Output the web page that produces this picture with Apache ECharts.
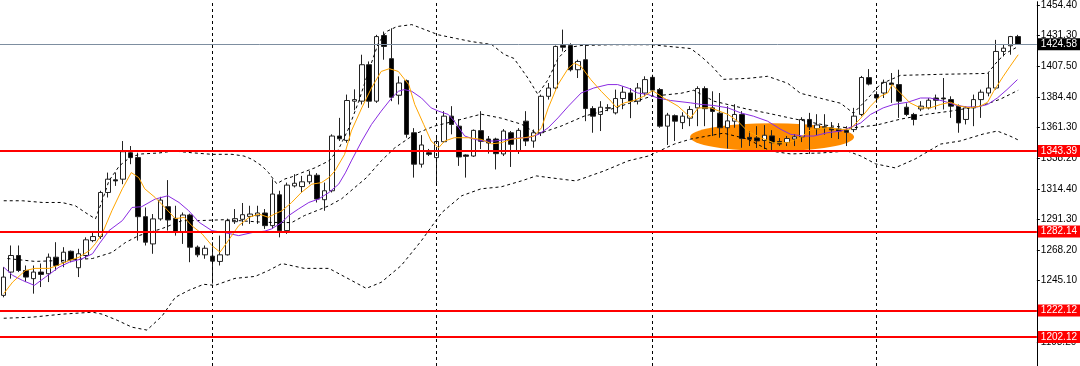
<!DOCTYPE html>
<html>
<head>
<meta charset="utf-8">
<script src="https://cdn.jsdelivr.net/npm/echarts@6/dist/echarts.min.js"></script>
<style>
  html, body { margin: 0; padding: 0; background: #fff; }
  #chart { width: 1080px; height: 366px; }
</style>
</head>
<body>
<div id="chart"></div>
<script>
// H4 candles (bar 0 = leftmost)
const opens = [1233.7,1251.4,1264.0,1252.6,1246.4,1251.4,1250.1,1262.7,1258.9,1267.2,
  1254.7,1264.0,1275.3,1278.4,1311.9,1321.5,1322.0,1342.1,1338.4,1293.5,
  1272.8,1291.8,1301.1,1292.2,1282.2,1294.8,1270.3,1264.5,1263.5,1259.5,
  1264.5,1289.7,1291.5,1293.7,1294.2,1296.3,1286.7,1310.1,1282.9,1316.9,
  1316.4,1320.0,1325.0,1306.4,1313.2,1354.8,1351.5,1381.3,1381.3,1409.0,
  1381.3,1431.2,1413.6,1385.8,1396.9,1357.3,1333.4,1342.1,1338.4,1350.5,
  1369.9,1362.3,1340.4,1339.6,1358.9,1352.5,1352.5,1341.2,1357.3,1343.4,
  1366.1,1351.0,1357.3,1385.0,1391.3,1423.6,1423.6,1405.2,1412.8,1375.7,
  1371.2,1376.3,1372.4,1383.3,1387.5,1381.3,1387.5,1399.4,1390.1,1362.3,
  1370.3,1365.0,1368.4,1376.2,1390.9,1376.2,1372.2,1361.1,1366.1,1371.2,
  1353.8,1353.4,1351.4,1354.9,1350.6,1349.9,1352.5,1354.2,1367.4,1360.4,
  1361.2,1361.1,1360.1,1359.2,1359.7,1371.2,1399.2,1386.3,1387.5,1395.1,
  1393.9,1376.7,1371.2,1375.4,1376.2,1383.7,1383.7,1382.5,1377.5,1367.4,
  1376.2,1382.5,1387.5,1391.3,1419.1,1423.4,1430.4];
const closes = [1247.6,1264.0,1252.6,1247.6,1251.4,1249.6,1262.7,1256.4,1266.5,1260.7,
  1265.3,1275.9,1278.4,1311.9,1322.0,1320.7,1342.9,1338.4,1293.5,1274.1,
  1291.8,1306.1,1291.0,1282.2,1294.8,1270.3,1264.5,1269.5,1259.7,1264.5,
  1290.5,1292.0,1295.0,1295.5,1296.3,1286.7,1310.7,1282.9,1317.5,1318.9,
  1320.0,1325.0,1306.9,1313.2,1354.8,1352.7,1381.8,1382.5,1409.0,1381.3,
  1430.4,1422.9,1384.3,1395.1,1356.1,1333.4,1348.0,1340.9,1350.6,1369.9,
  1363.6,1338.9,1339.4,1359.1,1350.8,1349.5,1341.4,1358.6,1348.5,1359.1,
  1351.0,1357.3,1385.0,1391.3,1422.9,1422.3,1405.2,1411.5,1375.7,1369.9,
  1376.7,1376.0,1383.3,1388.1,1381.3,1391.3,1397.7,1389.7,1362.3,1370.7,
  1366.1,1369.9,1375.0,1390.9,1375.6,1373.5,1361.1,1366.3,1371.2,1352.9,
  1352.4,1351.1,1355.4,1349.7,1348.7,1352.9,1354.2,1367.4,1361.7,1363.2,
  1361.9,1359.5,1358.6,1357.6,1369.9,1399.3,1394.3,1383.7,1395.6,1393.9,
  1381.3,1371.2,1367.4,1377.5,1382.0,1382.0,1383.0,1377.5,1364.8,1376.2,
  1382.5,1388.1,1391.3,1419.1,1421.6,1430.4,1424.58];
const lows = [1232.2,1246.4,1251.4,1243.8,1235.0,1240.0,1243.8,1252.6,1255.1,1258.9,
  1247.6,1261.5,1274.1,1276.6,1308.1,1316.9,1318.2,1333.4,1275.3,1271.6,
  1265.3,1290.5,1282.9,1279.1,1272.8,1258.9,1262.7,1261.5,1242.6,1256.4,
  1264.0,1288.0,1286.7,1288.0,1288.0,1284.2,1284.2,1277.8,1280.4,1315.7,
  1311.9,1318.2,1304.3,1298.0,1311.9,1351.0,1349.7,1374.4,1378.8,1376.2,
  1380.0,1412.8,1381.3,1378.8,1353.5,1323.2,1330.8,1339.6,1318.5,1349.7,
  1356.1,1332.1,1323.2,1338.9,1344.9,1341.4,1329.4,1339.6,1331.3,1341.2,
  1347.2,1345.9,1354.8,1382.5,1390.3,1419.1,1403.9,1398.9,1366.1,1357.3,
  1358.6,1373.7,1371.2,1375.2,1368.4,1378.8,1385.0,1387.5,1361.1,1348.0,
  1351.0,1360.1,1362.3,1362.3,1362.3,1354.8,1353.5,1345.3,1361.1,1345.9,
  1347.2,1345.7,1344.9,1343.4,1347.2,1347.2,1347.2,1350.2,1341.2,1355.5,
  1355.9,1353.3,1352.5,1347.2,1357.8,1369.9,1393.3,1380.0,1383.7,1380.0,
  1368.6,1369.9,1362.9,1373.7,1375.0,1375.0,1375.0,1368.6,1357.3,1363.6,
  1362.3,1368.6,1385.0,1390.1,1415.3,1416.6,1424.1];
const highs = [1255.1,1271.6,1271.6,1256.4,1256.4,1257.9,1265.5,1274.1,1270.3,1267.8,
  1269.1,1277.8,1281.6,1313.2,1327.0,1327.0,1351.0,1347.2,1342.1,1300.5,
  1295.5,1308.6,1321.3,1301.8,1296.7,1295.8,1271.6,1271.6,1274.1,1279.1,
  1292.0,1299.3,1303.9,1301.8,1301.8,1299.3,1322.0,1313.2,1319.4,1325.8,
  1324.5,1328.3,1326.6,1319.4,1356.1,1368.6,1386.3,1390.3,1416.6,1411.5,
  1431.7,1434.2,1436.7,1400.2,1397.7,1360.8,1355.5,1345.0,1354.8,1373.7,
  1377.5,1367.6,1340.9,1359.8,1373.7,1354.8,1353.5,1360.1,1358.6,1360.8,
  1373.7,1359.8,1386.3,1395.1,1423.6,1435.7,1425.3,1412.8,1424.6,1377.5,
  1381.3,1379.0,1390.1,1392.6,1391.3,1395.1,1400.2,1401.4,1391.3,1372.4,
  1371.2,1372.9,1377.5,1392.6,1392.6,1388.8,1387.5,1377.5,1379.0,1373.7,
  1358.6,1362.3,1363.1,1359.3,1353.3,1354.8,1356.3,1369.1,1372.4,1371.4,
  1371.4,1365.4,1364.6,1362.3,1376.2,1400.5,1405.7,1388.8,1397.7,1402.7,
  1405.2,1379.7,1372.4,1381.3,1383.7,1386.3,1398.9,1385.0,1378.8,1377.5,
  1386.3,1390.1,1402.7,1427.9,1424.1,1430.9,1431.7];

// indicator lines, read as [bar, price]
const fastMA = [[0,1235.0],[1.2,1243.8],[2.9,1252.6],[4.2,1254.2],[6.1,1254.2],[7.2,1256.4],[8.8,1260.2],
  [10.1,1262.7],[11.5,1267.8],[12.3,1273.1],[13.2,1280.6],[14.5,1298.0],[15.9,1314.7],[17.1,1327.0],
  [18.1,1323.2],[18.9,1314.7],[20.3,1308.1],[21.6,1300.5],[23.0,1292.0],[24.2,1293.0],[25.2,1286.7],
  [26.6,1280.4],[27.9,1271.6],[29.0,1266.5],[30.3,1276.9],[31.5,1286.7],[32.9,1293.0],[34.2,1295.5],
  [35.5,1293.0],[36.3,1295.5],[37.3,1298.0],[38.6,1304.3],[39.9,1311.9],[41.3,1318.2],[42.6,1319.4],
  [43.6,1323.2],[44.4,1328.3],[45.7,1340.9],[46.6,1358.6],[48.0,1376.2],[49.3,1391.3],[50.6,1403.9],
  [51.7,1406.0],[52.9,1403.9],[54.3,1393.9],[55.1,1378.8],[56.3,1363.6],[57.3,1351.0],[58.3,1345.9],
  [59.1,1351.0],[60.4,1353.5],[62.3,1353.5],[64.0,1352.3],[65.4,1348.9],[66.7,1349.7],[68.0,1352.3],
  [69.8,1353.5],[71.1,1354.8],[72.1,1361.1],[73.0,1376.2],[74.3,1393.9],[75.7,1406.4],[76.5,1410.2],
  [77.4,1407.7],[78.7,1397.7],[80.1,1388.8],[81.4,1381.3],[82.1,1376.7],[83.2,1380.0],[84.5,1381.8],
  [85.8,1385.0],[87.0,1389.3],[88.5,1383.7],[90.4,1377.5],[92.1,1368.6],[93.1,1376.2],[94.8,1376.2],
  [97.1,1371.2],[98.4,1366.1],[99.7,1358.6],[101.5,1353.5],[103.2,1349.7],[105.1,1349.7],[106.8,1353.5],
  [108.2,1359.8],[110.5,1361.1],[112.2,1359.8],[113.5,1360.1],[114.9,1368.4],[116.2,1377.5],[117.5,1385.0],
  [118.5,1387.5],[119.1,1393.9],[120.2,1387.5],[121.5,1380.0],[122.9,1376.2],[124.2,1376.2],[125.6,1378.8],
  [126.9,1380.5],[128.2,1377.5],[129.6,1376.2],[130.9,1377.5],[131.9,1380.5],[132.7,1388.8],[134.0,1400.2],
  [134.9,1407.7],[136.0,1416.6]];
const slowMA = [[0,1255.1],[1.2,1248.9],[2.5,1245.1],[4.1,1241.3],[5.6,1247.6],[7.4,1255.1],[8.8,1258.9],
  [10.5,1261.5],[11.9,1265.3],[12.8,1272.8],[14.1,1282.9],[15.9,1290.5],[17.2,1300.5],[18.5,1301.1],
  [20.3,1306.9],[22.0,1309.4],[23.5,1304.3],[24.8,1298.0],[26.2,1289.2],[27.9,1282.9],[29.6,1281.4],
  [31.5,1279.1],[33.3,1281.4],[35.0,1282.5],[35.9,1284.2],[37.3,1289.2],[38.2,1294.3],[39.5,1299.3],
  [40.9,1304.3],[42.2,1306.9],[43.6,1311.9],[44.9,1318.2],[45.8,1326.8],[46.6,1335.9],[48.0,1351.0],
  [49.3,1363.6],[50.6,1373.7],[52.0,1383.7],[52.9,1388.8],[53.7,1390.1],[54.7,1388.8],[56.0,1383.7],
  [57.3,1376.2],[58.3,1373.7],[59.6,1371.2],[60.4,1366.1],[61.8,1354.8],[63.1,1352.3],[64.4,1351.0],
  [65.8,1351.0],[67.6,1352.3],[69.4,1353.5],[70.3,1353.5],[71.7,1356.1],[73.0,1361.1],[74.3,1368.6],
  [75.7,1377.5],[77.4,1387.5],[79.1,1391.3],[81.0,1393.9],[82.3,1393.9],[83.7,1391.3],[85.0,1387.5],
  [86.4,1386.3],[87.7,1383.7],[89.4,1381.8],[92.1,1380.0],[93.5,1378.8],[95.2,1378.0],[97.1,1376.2],
  [98.8,1372.4],[100.5,1369.9],[102.4,1366.1],[104.2,1359.8],[105.5,1356.1],[107.2,1354.8],[108.6,1354.8],
  [110.4,1357.3],[112.2,1358.6],[113.9,1362.3],[114.9,1364.8],[116.2,1371.2],[117.9,1376.2],[119.3,1378.8],
  [121.2,1380.5],[122.9,1383.7],[124.2,1383.7],[126.0,1381.3],[127.8,1378.0],[129.2,1376.9],[130.5,1376.9],
  [131.9,1378.8],[133.2,1383.7],[134.5,1390.1],[135.9,1397.7]];
const bandUpper = [[0,1305.6],[2.5,1305.6],[5.2,1304.3],[7.8,1304.3],[9.6,1301.8],[10.9,1296.8],[12.3,1291.8],
  [13.2,1305.6],[14.1,1320.7],[15.5,1332.1],[17.0,1338.9],[18.5,1341.2],[20.8,1341.9],[22.8,1343.4],
  [25.2,1342.1],[27.9,1340.9],[30.6,1340.9],[32.2,1339.6],[33.3,1337.1],[34.6,1332.1],[35.5,1327.0],
  [36.6,1318.5],[37.7,1322.2],[38.6,1323.7],[39.9,1326.8],[41.7,1330.6],[43.6,1335.9],[44.9,1344.9],
  [46.2,1360.1],[47.6,1381.3],[48.9,1403.9],[50.2,1425.1],[51.3,1434.2],[52.7,1438.0],[54.7,1439.5],
  [56.0,1436.7],[58.3,1431.7],[60.7,1428.9],[62.7,1426.6],[65.4,1424.4],[67.1,1416.8],[68.4,1413.8],
  [70.3,1398.6],[71.6,1386.5],[73.0,1397.9],[74.3,1413.8],[75.7,1422.1],[77.4,1423.6],[81.4,1424.2],
  [86.8,1424.2],[92.1,1421.3],[93.5,1415.3],[95.1,1407.0],[96.5,1397.9],[99.7,1398.6],[102.4,1400.2],
  [105.1,1394.9],[106.8,1387.3],[109.5,1383.5],[112.2,1379.7],[113.9,1372.2],[115.5,1381.3],[117.5,1394.1],
  [120.2,1400.9],[125.6,1401.7],[131.9,1402.4],[133.2,1411.5],[134.3,1417.6],[136.0,1422.9]];
const bandMiddle = [[0.5,1261.7],[4.2,1259.5],[7.8,1260.2],[11.9,1261.7],[14.5,1266.3],[16.3,1273.8],
  [18.1,1279.1],[21.2,1284.4],[23.9,1290.5],[26.2,1290.5],[29.6,1291.2],[35.0,1289.2],[38.6,1289.0],
  [40.3,1294.3],[43.6,1301.8],[45.3,1307.1],[47.0,1315.4],[48.6,1323.0],[50.6,1335.9],[52.4,1345.7],
  [55.1,1356.3],[57.7,1362.3],[60.4,1366.1],[64.0,1371.4],[66.7,1368.4],[69.4,1363.8],[71.6,1356.3],
  [74.7,1362.3],[77.8,1369.9],[81.4,1375.2],[86.8,1385.0],[90.8,1387.3],[92.5,1389.6],[95.2,1381.3],
  [99.7,1375.2],[102.4,1372.2],[105.5,1368.4],[110.1,1363.1],[113.5,1360.8],[117.0,1363.1],[120.2,1367.6],
  [123.8,1371.4],[126.9,1373.7],[130.9,1377.5],[133.6,1382.8],[136.0,1389.6]];
const bandLower = [[0,1216.3],[3.8,1217.1],[7.8,1219.4],[11.9,1220.9],[13.2,1219.4],[15.2,1214.8],
  [17.2,1209.5],[19.2,1207.3],[21.2,1217.8],[23.0,1232.2],[24.8,1237.5],[26.8,1242.1],[28.3,1241.3],
  [31.0,1246.6],[33.7,1248.1],[35.5,1252.6],[37.3,1257.9],[40.3,1254.2],[43.6,1254.2],[46.6,1245.1],
  [48.6,1239.0],[50.6,1243.6],[53.3,1256.4],[56.0,1275.3],[58.7,1296.5],[61.4,1309.4],[64.0,1314.7],
  [66.7,1316.2],[69.4,1320.7],[71.4,1324.5],[73.4,1323.0],[76.7,1320.7],[80.5,1328.3],[83.7,1335.9],
  [86.4,1339.6],[89.9,1348.7],[92.1,1352.5],[96.5,1357.0],[99.7,1352.5],[102.8,1343.4],[105.5,1341.2],
  [109.5,1341.9],[113.1,1343.4],[114.9,1339.6],[116.9,1333.6],[119.5,1330.6],[122.2,1337.4],[125.6,1348.7],
  [128.2,1351.0],[131.3,1356.3],[133.2,1358.6],[134.9,1354.8],[136.3,1351.0]];

const levels = [1343.39, 1282.14, 1222.12, 1202.12];
const bidPrice = 1424.58;
const weekStarts = [28, 58, 87, 117];
const priceTicks = [1454.40, 1431.30, 1407.50, 1384.40, 1361.30, 1338.20, 1314.40,
  1291.30, 1268.20, 1245.10, 1222.00, 1198.20];
// highlighted consolidation: bar span and price span
const zoneBars = [92, 114];
const zonePrices = [1343.4, 1364.6];

const slotCount = 139;
const font = 'Liberation Sans';

const chart = echarts.init(document.getElementById('chart'));

const candleData = opens.map((o, i) => [o, closes[i], lows[i], highs[i]]);

function priceTag(value, bg) {
    return {
        show: true,
        position: 'end',
        distance: 1,
        formatter: () => value.toFixed(2),
        backgroundColor: bg,
        color: '#fff',
        fontFamily: font,
        fontSize: 10,
        lineHeight: 11,
        padding: [1, 3, 0, 3],
    };
}

function indicator(name, data, color, dashed) {
    return {
        name,
        type: 'line',
        xAxisIndex: 1,
        data,
        symbol: 'none',
        silent: true,
        z: 3,
        lineStyle: { color, width: 1, type: dashed ? [3, 3] : 'solid' },
    };
}

const option = {
    animation: false,
    backgroundColor: '#fff',
    grid: { left: -2, right: 43, top: 0, bottom: 0 },
    xAxis: [
        {
            type: 'category',
            data: Array.from({ length: slotCount }, (_, i) => i),
            boundaryGap: true,
            show: false,
        },
        {
            type: 'value',
            min: -0.5,
            max: slotCount - 0.5,
            show: false,
        },
    ],
    yAxis: {
        type: 'value',
        position: 'right',
        min: 1180.0,
        max: 1456.9,
        splitLine: { show: false },
        axisLine: { show: true, onZero: false, lineStyle: { color: '#000', width: 1 } },
        axisTick: { show: true, length: 3, customValues: priceTicks, lineStyle: { color: '#000' } },
        axisLabel: {
            customValues: priceTicks,
            formatter: (v) => v.toFixed(2),
            color: '#000',
            fontFamily: font,
            fontSize: 10,
            margin: 4,
        },
    },
    series: [
        {
            name: 'XAUUSD',
            type: 'candlestick',
            data: candleData,
            barWidth: 5,
            z: 2,
            itemStyle: {
                color: '#fff',
                color0: '#000',
                borderColor: '#222',
                borderColor0: '#222',
                borderWidth: 1,
            },
            markLine: {
                silent: true,
                symbol: ['none', 'none'],
                z: 6,
                data: [
                    ...levels.map((v) => ({
                        yAxis: v,
                        lineStyle: { color: '#ff0000', width: 2, type: 'solid' },
                        label: priceTag(v, '#ff0000'),
                    })),
                    {
                        yAxis: bidPrice,
                        lineStyle: { color: '#7d8ea0', width: 1, type: 'solid' },
                        label: priceTag(bidPrice, '#000'),
                    },
                ],
            },
        },
        {
            ...indicator('BB upper', bandUpper, '#000', true),
            markLine: {
                silent: true,
                symbol: ['none', 'none'],
                label: { show: false },
                lineStyle: { color: '#000', width: 1, type: [3, 3] },
                data: weekStarts.map((b) => ({ xAxis: b })),
            },
        },
        indicator('BB middle', bandMiddle, '#000', true),
        indicator('BB lower', bandLower, '#000', true),
        indicator('MA slow', slowMA, '#8a2be2', false),
        indicator('MA fast', fastMA, '#ffa500', false),
    ],
};

chart.setOption(option);

// orange ellipse behind the flat zone, placed from bar/price coordinates
const finder = { xAxisIndex: 1, yAxisIndex: 0 };
const p0 = chart.convertToPixel(finder, [zoneBars[0], zonePrices[1]]);
const p1 = chart.convertToPixel(finder, [zoneBars[1], zonePrices[0]]);
const rx = (p1[0] - p0[0]) / 2;
const ry = (p1[1] - p0[1]) / 2;
chart.setOption({
    graphic: [{
        type: 'circle',
        x: (p0[0] + p1[0]) / 2,
        y: (p0[1] + p1[1]) / 2,
        scaleX: rx / ry,
        shape: { cx: 0, cy: 0, r: ry },
        style: { fill: '#ff8c00' },
        silent: true,
        z: 1,
    }],
});
</script>
</body>
</html>
